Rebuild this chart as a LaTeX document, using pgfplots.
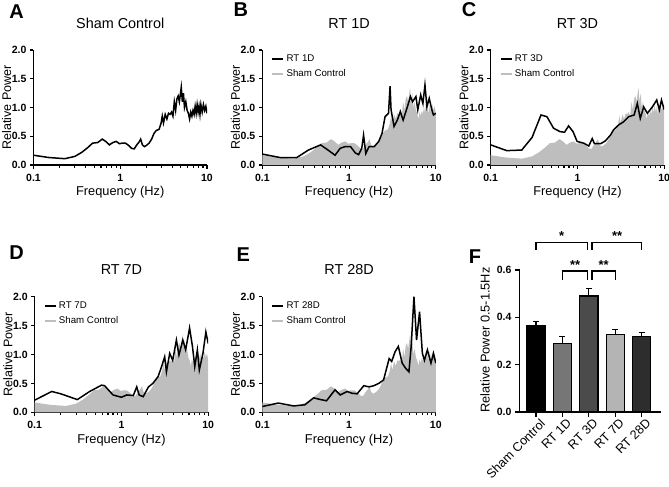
\documentclass[border=0pt]{standalone}
\usepackage{pgfplots}
\pgfplotsset{compat=1.18}
\usepackage{pgfplotstable}
\usepackage{fontspec}
\setmainfont{Liberation Sans}
\definecolor{shamgray}{HTML}{BEBEBE}
\definecolor{bar1}{HTML}{767676}
\definecolor{bar3}{HTML}{4B4B4B}
\definecolor{bar7}{HTML}{B4B4B4}
\definecolor{bar28}{HTML}{2D2D2D}

\pgfplotstableread{
f v
0.10 0.17
0.15 0.13
0.23 0.11
0.30 0.15
0.36 0.22
0.42 0.30
0.48 0.38
0.55 0.39
0.62 0.45
0.68 0.41
0.75 0.35
0.82 0.39
0.90 0.41
0.98 0.37
1.05 0.38
1.15 0.38
1.25 0.34
1.35 0.29
1.45 0.28
1.55 0.35
1.65 0.40
1.72 0.45
1.80 0.35
1.90 0.32
2.00 0.34
2.15 0.38
2.30 0.45
2.45 0.55
2.60 0.60
2.80 0.62
2.95 0.72
3.05 0.85
3.15 0.73
3.30 0.88
3.45 0.80
3.60 0.90
3.75 0.88
3.90 0.92
4.05 0.85
4.20 1.10
4.35 0.95
4.50 1.15
4.65 1.20
4.80 1.10
4.95 1.25
5.05 1.35
5.20 1.10
5.35 1.25
5.50 1.00
5.70 1.10
5.90 0.95
6.10 0.90
6.30 0.80
6.50 0.92
6.70 0.85
6.90 0.95
7.10 0.88
7.30 1.02
7.50 0.90
7.70 1.05
7.90 0.92
8.10 1.02
8.30 0.88
8.50 1.05
8.80 0.92
9.10 1.05
9.40 0.95
9.70 1.02
10.0 0.90
}\sham

\pgfplotstableread{
f v
0.10 0.19
0.16 0.13
0.25 0.13
0.34 0.26
0.47 0.35
0.56 0.27
0.69 0.17
0.79 0.29
0.90 0.32
1.04 0.32
1.18 0.21
1.29 0.18
1.40 0.29
1.47 0.52
1.56 0.20
1.70 0.32
1.95 0.32
2.20 0.41
2.40 0.55
2.60 0.84
2.85 0.90
2.97 1.37
3.05 0.96
3.30 0.67
3.60 0.78
3.90 0.93
4.20 0.78
4.70 1.01
5.10 1.19
5.40 1.10
5.90 1.19
6.20 0.96
6.70 1.22
7.10 1.07
7.50 1.39
7.90 1.01
8.40 1.16
9.00 0.96
9.40 0.87
10.0 0.90
}\rtone

\pgfplotstableread{
f v
0.10 0.35
0.153 0.25
0.228 0.26
0.30 0.48
0.38 0.87
0.445 0.84
0.53 0.64
0.63 0.58
0.71 0.57
0.79 0.68
0.89 0.58
0.99 0.41
1.18 0.38
1.35 0.33
1.48 0.46
1.57 0.37
1.85 0.37
2.10 0.42
2.40 0.52
2.60 0.61
3.00 0.70
3.40 0.75
3.90 0.84
4.50 0.87
4.90 1.07
5.30 0.81
5.80 1.01
6.40 0.90
7.30 1.01
8.20 1.13
8.80 0.96
9.30 1.13
10.0 0.96
}\rtthree

\pgfplotstableread{
f v
0.10 0.21
0.157 0.36
0.20 0.32
0.31 0.22
0.43 0.36
0.59 0.47
0.64 0.46
0.80 0.30
1.00 0.26
1.15 0.30
1.37 0.29
1.50 0.44
1.60 0.30
1.78 0.27
2.05 0.44
2.30 0.50
2.65 0.62
2.90 0.79
3.15 0.96
3.30 0.70
3.60 1.02
3.90 0.90
4.30 1.25
4.60 0.99
5.10 1.25
5.50 1.08
6.10 1.46
6.60 1.13
7.00 0.79
7.50 1.08
7.90 0.73
8.70 1.02
9.40 1.39
10.0 1.19
}\rtseven

\pgfplotstableread{
f v
0.10 0.10
0.153 0.16
0.23 0.11
0.31 0.13
0.39 0.25
0.47 0.22
0.55 0.20
0.69 0.39
0.79 0.30
0.95 0.36
1.08 0.33
1.24 0.32
1.48 0.46
1.70 0.44
1.93 0.46
2.20 0.50
2.50 0.56
2.90 0.93
3.10 0.88
3.40 1.05
3.70 1.14
4.10 0.85
4.50 0.76
4.90 0.70
5.20 1.14
5.60 2.00
6.00 1.25
6.50 1.74
7.00 1.02
7.40 0.90
8.00 1.08
8.80 0.85
9.40 1.02
10.0 0.85
}\rttwentyeight

\pgfplotsset{
  legend image code/.code={\draw[#1] (0pt,0pt) -- (11pt,0pt);},
  linepanel/.style={
    scale only axis, width=173.5pt, height=115pt, anchor=north west,
    xmin=0.1, xmax=10, ymin=0, ymax=2,
    axis lines=left, axis line style={line width=1.1pt,-},
    xtick={0.1,1,10}, xticklabels={0.1,1,10},
    ytick={0,0.5,1,1.5,2}, yticklabels={0.0,0.5,1.0,1.5,2.0},
    minor tick num=0,
    tick style={line width=1.1pt, black}, tick align=outside, major tick length=3.5pt,
    ticklabel style={font=\bfseries\fontsize{10.5}{12}\selectfont},
    xticklabel style={yshift=-2pt},
    xlabel={Frequency (Hz)}, ylabel={Relative Power},
    every axis x label/.style={at={(axis description cs:0.5,-0.24)}, anchor=center, font=\fontsize{12.8}{14}\selectfont},
    every axis y label/.style={at={(axis description cs:-0.155,0.5)}, anchor=center, rotate=90, font=\fontsize{12.5}{14}\selectfont},
    title style={font=\fontsize{14.4}{16}\selectfont, at={(axis description cs:0.5,1.18)}, anchor=center},
    legend style={draw=none, fill=none, at={(axis description cs:0.05,0.975)}, anchor=north west,
      font=\fontsize{9.7}{11}\selectfont, row sep=2.5pt, inner sep=0pt, nodes={inner sep=2pt}},
    legend cell align=left,
  },
}
\tikzset{panlabel/.style={font=\bfseries\fontsize{20}{22}\selectfont, anchor=center}}

\begin{document}
\begin{tikzpicture}
\useasboundingbox (0,0) rectangle (669pt,-487pt);

\node[panlabel] at (16.7pt,-11.7pt) {A};
\node[panlabel] at (240.8pt,-10pt) {B};
\node[panlabel] at (469pt,-10pt) {C};
\node[panlabel] at (16.7pt,-252.5pt) {D};
\node[panlabel] at (243.3pt,-254.5pt) {E};
\node[panlabel] at (475pt,-256.7pt) {F};

% A
\begin{axis}[xmode=log, linepanel, at={(33.5pt,-50pt)}, title={Sham Control}]
\addplot[black, line width=1.5pt] table[x=f,y=v] {\sham};
\end{axis}

% B
\begin{axis}[xmode=log, linepanel, at={(262.3pt,-50pt)}, title={RT 1D}]
\addlegendimage{black, line width=2.4pt}
\addlegendentry{RT 1D}
\addlegendimage{shamgray, line width=2.4pt}
\addlegendentry{Sham Control}
\addplot[fill=shamgray, draw=none, forget plot] table[x=f,y=v] {\sham} \closedcycle;
\addplot[black, line width=1.5pt, forget plot] table[x=f,y=v] {\rtone};
\end{axis}

% C
\begin{axis}[xmode=log, linepanel, at={(490.7pt,-50pt)}, title={RT 3D}]
\addlegendimage{black, line width=2.4pt}
\addlegendentry{RT 3D}
\addlegendimage{shamgray, line width=2.4pt}
\addlegendentry{Sham Control}
\addplot[fill=shamgray, draw=none, forget plot] table[x=f,y=v] {\sham} \closedcycle;
\addplot[black, line width=1.5pt, forget plot] table[x=f,y=v] {\rtthree};
\end{axis}

% D
\begin{axis}[xmode=log, linepanel, at={(34.7pt,-296.7pt)}, height=115.6pt, title={RT 7D}]
\addlegendimage{black, line width=2.4pt}
\addlegendentry{RT 7D}
\addlegendimage{shamgray, line width=2.4pt}
\addlegendentry{Sham Control}
\addplot[fill=shamgray, draw=none, forget plot] table[x=f,y=v] {\sham} \closedcycle;
\addplot[black, line width=1.5pt, forget plot] table[x=f,y=v] {\rtseven};
\end{axis}

% E
\begin{axis}[xmode=log, linepanel, at={(262.3pt,-296.7pt)}, height=115.6pt, title={RT 28D}]
\addlegendimage{black, line width=2.4pt}
\addlegendentry{RT 28D}
\addlegendimage{shamgray, line width=2.4pt}
\addlegendentry{Sham Control}
\addplot[fill=shamgray, draw=none, forget plot] table[x=f,y=v] {\sham} \closedcycle;
\addplot[black, line width=1.5pt, forget plot] table[x=f,y=v] {\rttwentyeight};
\end{axis}

% F
\begin{axis}[scale only axis, width=141.8pt, height=142pt, anchor=north west, at={(519.5pt,-270pt)},
  xmin=-0.624, xmax=4.742, ymin=0, ymax=0.6,
  axis lines=left, axis line style={line width=1.1pt,-},
  xtick={0,1,2,3,4}, xticklabels={Sham Control,RT 1D,RT 3D,RT 7D,RT 28D},
  ytick={0,0.2,0.4,0.6}, yticklabels={0.0,0.2,0.4,0.6},
  tick style={line width=1.1pt, black}, tick align=outside, major tick length=4.5pt,
  yticklabel style={font=\bfseries\fontsize{10.5}{12}\selectfont},
  xticklabel style={font=\fontsize{12.6}{14}\selectfont, rotate=45, anchor=north east, inner sep=0.5pt, yshift=-3pt, xshift=2pt},
  ylabel={Relative Power 0.5-1.5Hz},
  every axis y label/.style={at={(axis description cs:-0.243,0.507)}, anchor=center, rotate=90, font=\fontsize{12.8}{14}\selectfont},
  clip=false,
  every axis plot/.append style={ybar, bar width=18.3pt, bar shift=0pt, draw=black, line width=1.1pt,
    /pgfplots/error bars/y dir=plus, /pgfplots/error bars/y explicit,
    /pgfplots/error bars/error bar style={line width=1.1pt, black},
    /pgfplots/error bars/error mark options={rotate=90, mark size=3pt, line width=1.1pt, black}},
]
\addplot[fill=black] coordinates {(0,0.365) +- (0,0.017)};
\addplot[fill=bar1] coordinates {(1,0.290) +- (0,0.030)};
\addplot[fill=bar3] coordinates {(2,0.490) +- (0,0.032)};
\addplot[fill=bar7] coordinates {(3,0.328) +- (0,0.020)};
\addplot[fill=bar28] coordinates {(4,0.320) +- (0,0.016)};
% significance brackets
\draw[line width=1.1pt] (axis cs:0,0.684) -- (axis cs:0,0.717) -- (axis cs:1.94,0.717) -- (axis cs:1.94,0.684);
\draw[line width=1.1pt] (axis cs:2.12,0.684) -- (axis cs:2.12,0.717) -- (axis cs:4.0,0.717) -- (axis cs:4.0,0.684);
\draw[line width=1.1pt] (axis cs:1,0.558) -- (axis cs:1,0.596) -- (axis cs:1.94,0.596) -- (axis cs:1.94,0.558);
\draw[line width=1.1pt] (axis cs:2.12,0.558) -- (axis cs:2.12,0.596) -- (axis cs:3.0,0.596) -- (axis cs:3.0,0.558);
\node[font=\bfseries\fontsize{13}{14}\selectfont] at (axis cs:0.97,0.745) {*};
\node[font=\bfseries\fontsize{13}{14}\selectfont] at (axis cs:3.07,0.745) {**};
\node[font=\bfseries\fontsize{13}{14}\selectfont] at (axis cs:1.48,0.623) {**};
\node[font=\bfseries\fontsize{13}{14}\selectfont] at (axis cs:2.56,0.623) {**};
\end{axis}
\end{tikzpicture}
\end{document}
